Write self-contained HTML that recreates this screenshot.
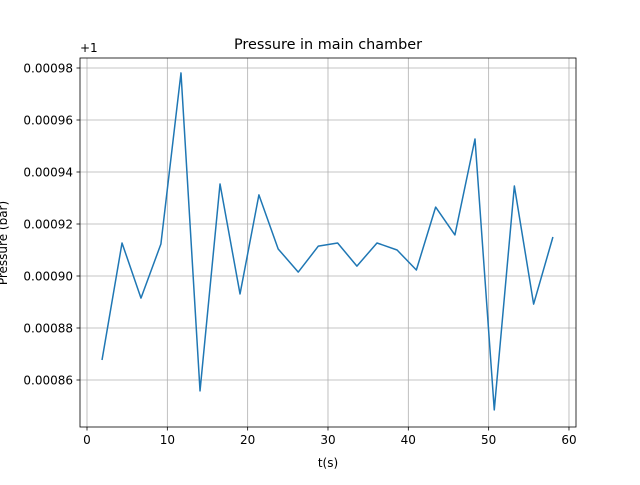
<!DOCTYPE html>
<html><head><meta charset="utf-8"><style>
body{margin:0;background:#fff;font-family:"Liberation Sans","DejaVu Sans",sans-serif;}
svg text{font-family:"DejaVu Sans","Liberation Sans",sans-serif;font-size:12px;fill:#000}
</style></head><body>
<svg id="chart" width="640" height="480"></svg>
<script>
const times=[1.87,4.36,6.72,9.2,11.7,14.07,16.56,19.05,21.4,23.8,26.3,28.8,31.2,33.6,36.1,38.6,41.0,43.4,45.8,48.3,50.7,53.2,55.6,58.0];
const pressures=[86.77,91.27,89.15,91.23,97.81,85.58,93.54,89.31,93.12,91.04,90.15,91.15,91.27,90.38,91.27,91.0,90.23,92.65,91.58,95.27,84.85,93.46,88.92,91.5];
const xTicks=[0,10,20,30,40,50,60];
const yTicks=[86,88,90,92,94,96,98];
const yTickLabels=["0.00086","0.00088","0.00090","0.00092","0.00094","0.00096","0.00098"];
const NS="http://www.w3.org/2000/svg";
const svg=document.getElementById('chart');
const L=80,R=576,T=58,B=427;
const xs=t=>87+t*8.033;
const ys=v=>68+(98-v)*26;
function mk(tag,attrs,parent){const e=document.createElementNS(NS,tag);for(const k in attrs)e.setAttribute(k,attrs[k]);(parent||svg).appendChild(e);return e;}
xTicks.forEach(t=>{const x=xs(t);
 const g=mk('line',{x1:x,x2:x,y1:T,y2:B,stroke:'#b0b0b0','stroke-width':0.8});
 
 
 mk('line',{x1:x,x2:x,y1:B,y2:B+3.5,stroke:'#000','stroke-width':0.8});
 const tx=mk('text',{x:x,y:B+17,'text-anchor':'middle'});tx.textContent=t;
 
 
});
yTicks.forEach((v,i)=>{const y=ys(v);
 const g=mk('line',{x1:L,x2:R,y1:y,y2:y,stroke:'#b0b0b0','stroke-width':0.8});
 
 
 mk('line',{x1:L-3.5,x2:L,y1:y,y2:y,stroke:'#000','stroke-width':0.8});
 const tx=mk('text',{x:L-7,y:y+4.5,'text-anchor':'end'});tx.textContent=yTickLabels[i];
 
 
});
const pts=times.map((t,i)=>xs(t)+','+ys(pressures[i])).join(' ');
const line=mk('polyline',{points:pts,fill:'none',stroke:'#1f77b4','stroke-width':1.5,'stroke-linejoin':'round'});


const fr=mk('rect',{x:L,y:T,width:R-L,height:B-T,fill:'none',stroke:'#000','stroke-width':0.8});


</script>
<svg width="640" height="480" style="position:absolute;left:0;top:0">
<text x="328" y="49" text-anchor="middle" style="font-size:14.4px">Pressure in main chamber</text>
<text x="328" y="467" text-anchor="middle">t(s)</text>
<text x="80" y="52">+1</text>
<text transform="translate(7,243) rotate(-90)" text-anchor="middle">Pressure (bar)</text>
</svg>
</body></html>
